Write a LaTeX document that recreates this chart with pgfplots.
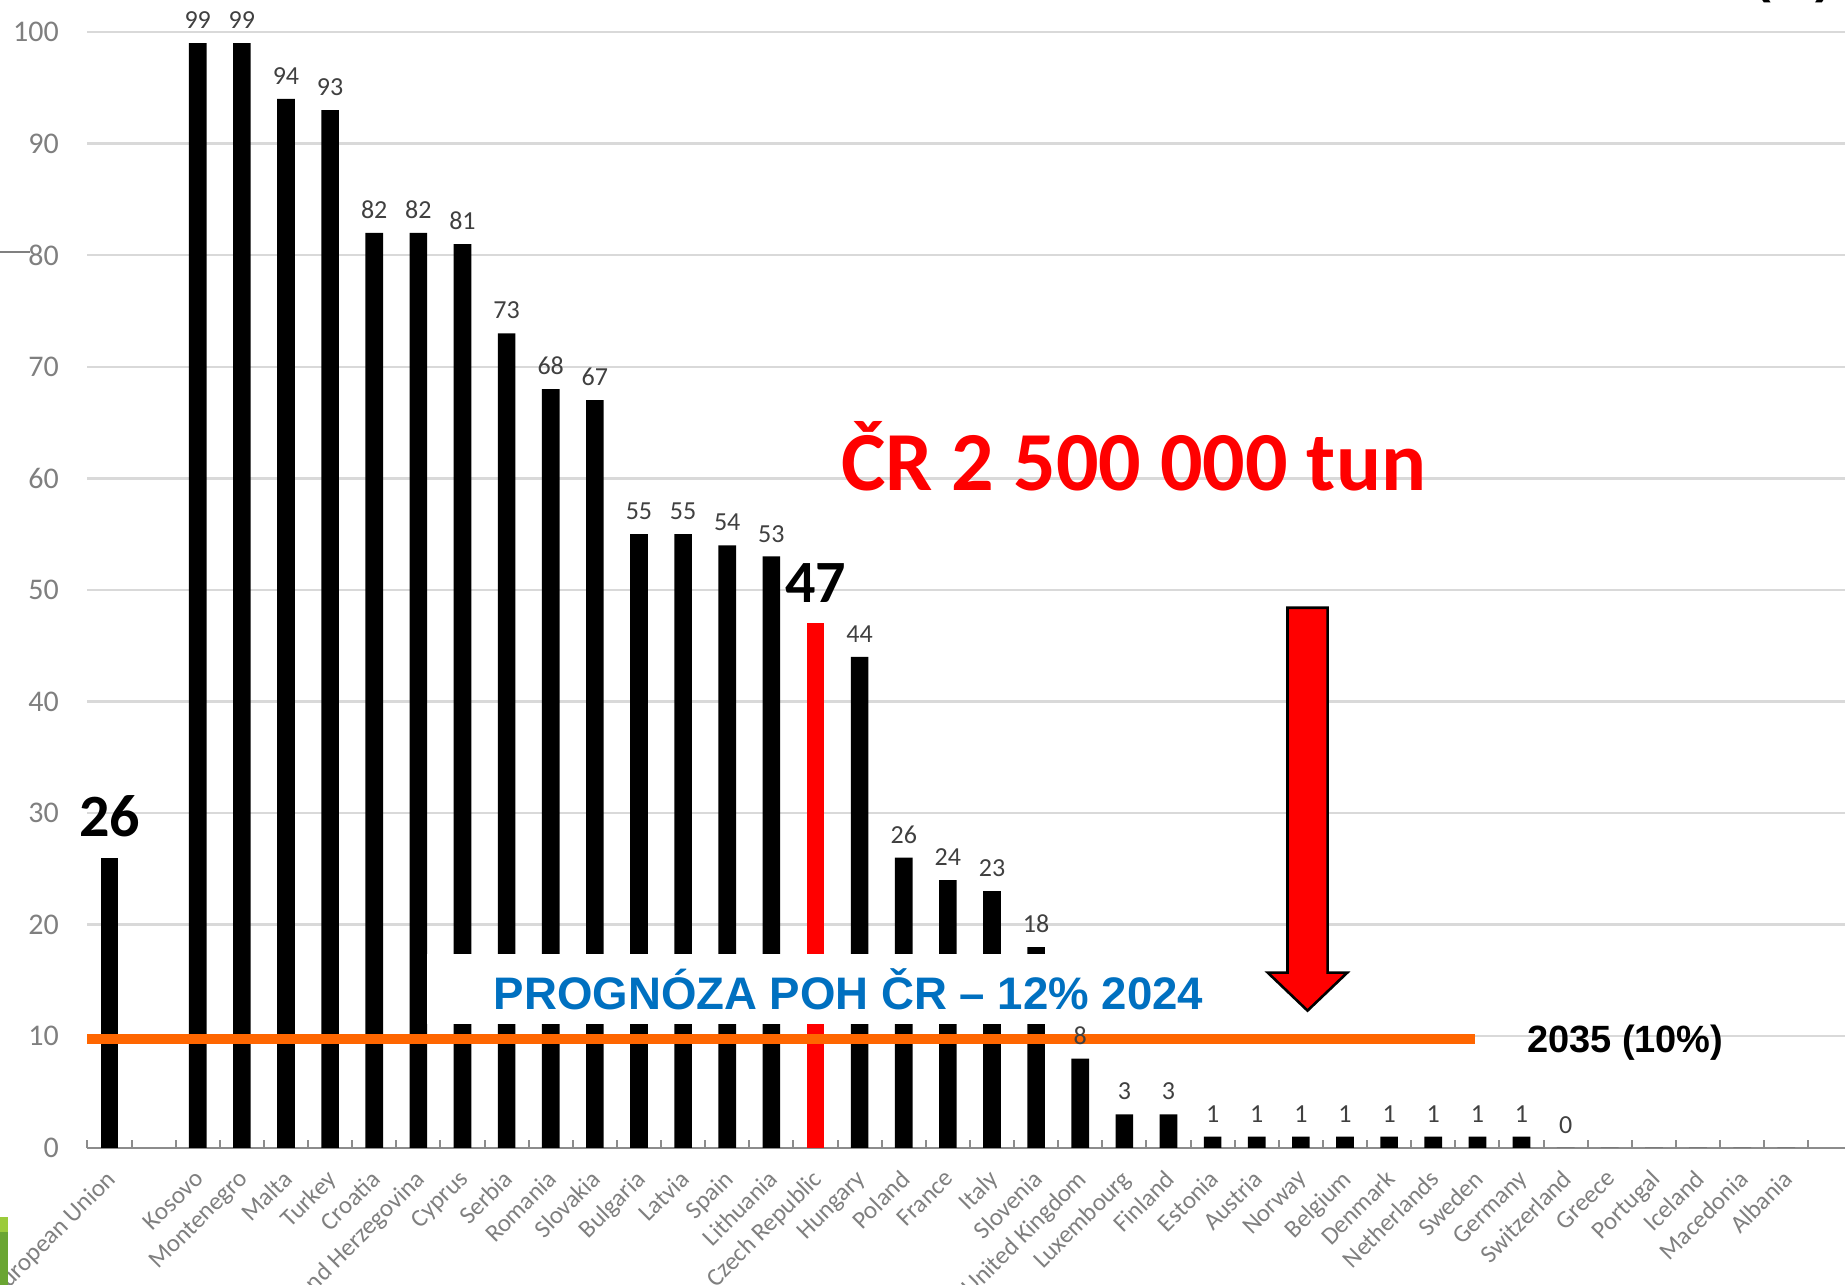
\documentclass[border=0pt]{standalone}
\usepackage{fontspec}
\setmainfont{Carlito}
\newfontfamily\arialfont{Liberation Sans}
\usepackage{pgfplots}
\usepackage{pgfplotstable}
\pgfplotsset{compat=1.18}
\definecolor{gridgray}{HTML}{D9D9D9}
\definecolor{axgray}{HTML}{8C8C8C}
\definecolor{tickgray}{HTML}{7F7F7F}
\definecolor{labgray}{HTML}{404040}
\definecolor{orangeline}{HTML}{FF6600}
\definecolor{progblue}{HTML}{0070C0}
\definecolor{lgreen}{HTML}{9BCB3B}
\definecolor{dgreen}{HTML}{6AA532}

\pgfplotstableread{
x y
2 99
3 99
4 94
5 93
6 82
7 82
8 81
9 73
10 68
11 67
12 55
13 55
14 54
15 53
17 44
18 26
19 24
20 23
21 18
22 8
23 3
24 3
25 1
26 1
27 1
28 1
29 1
30 1
31 1
32 1
33 0
}\mainbars

\pgfplotstableread{
x y
34 0
35 0
36 0
37 0
38 0
}\nolabelbars

\pgfplotstableread{
x y
0 26
}\eubar

\pgfplotstableread{
x y
16 47
}\czbar

\begin{document}
\begin{tikzpicture}
\begin{axis}[
  scale only axis, width=878.9pt, height=574pt,
  xmin=-0.5, xmax=39.33, ymin=0, ymax=102.87,
  clip=false,
  axis x line*=bottom, axis y line*=left,
  y axis line style={draw=none},
  x axis line style={draw=axgray, line width=1.2pt},
  ytick={0,10,...,100}, ytick style={draw=none},
  ymajorgrids, grid style={draw=gridgray, line width=1.2pt},
  xtick={-0.5,0.5,...,38.5},
  x tick label as interval,
  xticklabels={European Union,{},Kosovo,Montenegro,Malta,Turkey,Croatia,Bosnia and Herzegovina,Cyprus,Serbia,Romania,Slovakia,Bulgaria,Latvia,Spain,Lithuania,Czech Republic,Hungary,Poland,France,Italy,Slovenia,United Kingdom,Luxembourg,Finland,Estonia,Austria,Norway,Belgium,Denmark,Netherlands,Sweden,Germany,Switzerland,Greece,Portugal,Iceland,Macedonia,Albania},
  xtick style={draw=axgray, line width=1pt},
  tick align=inside, major tick length=4pt,
  xticklabel style={rotate=45, anchor=north east, inner sep=0pt, font=\fontsize{12.5}{12.5}\selectfont, text=tickgray, xshift=-8.8pt, yshift=-5.5pt},
  yticklabel style={font=\fontsize{15}{15}\selectfont, text=tickgray, xshift=-10.8pt},
  /pgf/number format/assume math mode=true,
]
\coordinate (SW) at (rel axis cs:0,0);
\coordinate (NE) at (rel axis cs:1,1);

\addplot[ybar, bar width=0.4, bar shift=0pt, fill=black, draw=none,
  nodes near coords,
  nodes near coords style={font=\fontsize{13}{13}\selectfont, text=labgray, anchor=south, yshift=3.6pt}]
  table[x=x,y=y]{\mainbars};
\addplot[ybar, bar width=0.4, bar shift=0pt, fill=black, draw=none]
  table[x=x,y=y]{\nolabelbars};
\addplot[ybar, bar width=0.4, bar shift=0pt, fill=black, draw=none,
  nodes near coords,
  nodes near coords style={font=\bfseries\fontsize{30}{30}\selectfont, text=black, anchor=south, yshift=7pt}]
  table[x=x,y=y]{\eubar};
\addplot[ybar, bar width=0.4, bar shift=0pt, fill=red, draw=none,
  nodes near coords,
  nodes near coords style={font=\bfseries\fontsize{30}{30}\selectfont, text=black, anchor=south, yshift=7pt}]
  table[x=x,y=y]{\czbar};

% white box behind the forecast text
\fill[white] (axis cs:7.2,11.07) rectangle (axis cs:26,17.4);
\node[anchor=base, inner sep=0pt, font=\arialfont\bfseries\fontsize{22.8}{22.8}\selectfont, text=progblue]
  at (axis cs:16.75,12.4) {PROGNÓZA POH ČR – 12\% 2024};

% 2035 target line
\addplot[orangeline, line width=5pt, line cap=butt] coordinates {(-0.5,9.8) (30.94,9.8)};
\node[anchor=base, inner sep=0pt, font=\arialfont\bfseries\fontsize{19}{19}\selectfont]
  at (axis cs:34.35,8.51) {2035 (10\%)};

% big red arrow
\draw[fill=red, draw=black, line width=1.3pt, line join=miter]
  (axis cs:26.695,48.4) -- (axis cs:27.605,48.4) -- (axis cs:27.605,15.7)
  -- (axis cs:28.05,15.7) -- (axis cs:27.15,12.3) -- (axis cs:26.25,15.7)
  -- (axis cs:26.695,15.7) -- cycle;

\node[anchor=base, inner sep=0pt, font=\bfseries\fontsize{42}{42}\selectfont, text=red]
  at (axis cs:23.21,58.9) {ČR 2 500 000 tun};

\node[anchor=south, inner sep=0pt, font=\arialfont\bfseries\fontsize{25}{25}\selectfont]
  at (axis cs:38.15,102.6) {(\%)};

\draw[gray, line width=0.8pt] ([xshift=-43.7pt]axis cs:-0.5,80.3) -- ++(4pt,0);
\end{axis}
\fill[dgreen] ([xshift=-43.7pt,yshift=-68.5pt]SW) rectangle ++(4pt,26.5pt);
\fill[lgreen] ([xshift=-43.7pt,yshift=-42pt]SW) rectangle ++(4pt,7.5pt);
\pgfresetboundingbox
\path[use as bounding box] ([xshift=-43.7pt,yshift=-68.5pt]SW) rectangle (NE);
\end{tikzpicture}
\end{document}
